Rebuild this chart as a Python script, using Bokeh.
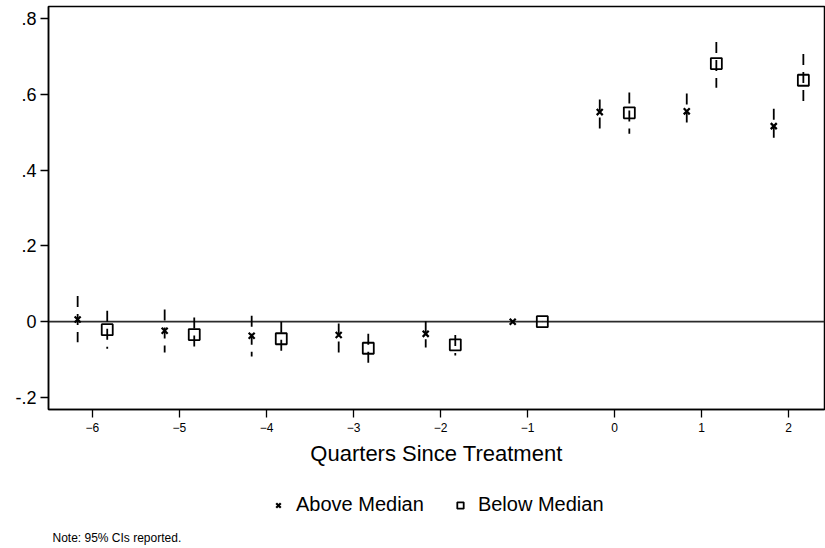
from bokeh.plotting import figure
from bokeh.layouts import column
from bokeh.models import (ColumnDataSource, Span, Legend, LegendItem, Label,
                          FixedTicker, Range1d)
from bokeh.embed import file_html
from bokeh.resources import INLINE

# ---- data ----
quarters = [-6, -5, -4, -3, -2, -1, 0, 1, 2]
above_est = [0.006, -0.024, -0.037, -0.035, -0.032, 0.0, 0.553, 0.555, 0.516]
above_lo = [-0.054, -0.081, -0.092, -0.082, -0.068, 0.0, 0.510, 0.507, 0.469]
above_hi = [0.068, 0.032, 0.016, -0.005, 0.001, 0.0, 0.586, 0.602, 0.562]
below_est = [-0.021, -0.034, -0.045, -0.070, -0.061, 0.0, 0.551, 0.681, 0.637]
below_lo = [-0.071, -0.081, -0.084, -0.108, -0.089, 0.0, 0.496, 0.617, 0.566]
below_hi = [0.029, 0.011, 0.000, -0.032, -0.035, 0.0, 0.605, 0.738, 0.706]
x_ticks = [-6, -5, -4, -3, -2, -1, 0, 1, 2]
y_ticks = [-0.2, 0, 0.2, 0.4, 0.6, 0.8]
y_tick_labels = ["-.2", "0", ".2", ".4", ".6", ".8"]
series_labels = ["Above Median", "Below Median"]
x_title = "Quarters Since Treatment"
note_text = "Note: 95% CIs reported."

OFFSET = 0.17
FONT = "Liberation Sans"

above_src = ColumnDataSource(dict(x=[q - OFFSET for q in quarters], est=above_est,
                                  lo=above_lo, hi=above_hi))
below_src = ColumnDataSource(dict(x=[q + OFFSET for q in quarters], est=below_est,
                                  lo=below_lo, hi=below_hi))

MAIN_H = 475
p = figure(width=825, height=MAIN_H, output_backend="svg", toolbar_location=None,
           x_range=Range1d(-6.505, 2.413), y_range=Range1d(-0.2316, 0.8316),
           min_border_left=48, min_border_right=1, min_border_top=6,
           min_border_bottom=MAIN_H - 409)
p.background_fill_color = "white"
p.border_fill_color = "white"
p.xgrid.visible = False
p.ygrid.visible = False
p.outline_line_color = "black"
p.outline_line_width = 1.5

zero = Span(location=0, dimension="width", line_color="#2b2b2b", line_width=1.8,
            level="underlay")
p.add_layout(zero)

# CIs (dashed)
p.segment(x0="x", y0="hi", x1="x", y1="lo", source=above_src, line_color="black",
          line_width=1.8, line_dash="11 7")
p.segment(x0="x", y0="hi", x1="x", y1="lo", source=below_src, line_color="black",
          line_width=1.8, line_dash="11 7")

MARK_A = dict(marker="x", size=8.5, line_color="black", line_width=2.2)
MARK_B = dict(marker="square", size=11, line_color="black", line_width=1.8,
              fill_alpha=0)
p.scatter(x="x", y="est", source=above_src, **MARK_A)
p.scatter(x="x", y="est", source=below_src, **MARK_B)

# axes
for ax in (p.xaxis[0], p.yaxis[0]):
    ax.axis_line_width = 1.5
    ax.axis_line_color = "black"
    ax.major_tick_line_width = 1.3
    ax.major_tick_in = 0
    ax.major_tick_out = 8
    ax.minor_tick_line_color = None

p.yaxis.ticker = FixedTicker(ticks=y_ticks)
p.yaxis.major_label_overrides = dict(zip(y_ticks, y_tick_labels))
p.yaxis.major_label_text_font = FONT
p.yaxis.major_label_text_font_size = "18px"
p.yaxis.major_label_standoff = 4
p.yaxis.major_label_text_color = "black"

p.xaxis.ticker = FixedTicker(ticks=x_ticks)
p.xaxis.major_label_text_font = FONT
p.xaxis.major_label_text_font_size = "12px"
p.xaxis.major_label_standoff = 5
p.xaxis.major_label_text_color = "black"
p.xaxis.axis_label = x_title
p.xaxis.axis_label_text_font = FONT
p.xaxis.axis_label_text_font_size = "22px"
p.xaxis.axis_label_text_font_style = "normal"
p.xaxis.axis_label_text_color = "black"
p.xaxis.axis_label_standoff = 6

# ---- bottom strip: legend + note ----
LEG_H = 548 - MAIN_H
q = figure(width=825, height=LEG_H, output_backend="svg", toolbar_location=None,
           x_range=Range1d(1000, 1001), y_range=Range1d(1000, 1001),
           min_border_left=0, min_border_right=0, min_border_top=0,
           min_border_bottom=0)
q.axis.visible = False
q.grid.visible = False
q.outline_line_color = None
q.background_fill_color = "white"
q.border_fill_color = "white"

# legend-key renderers (same series; out of this strip's view, only keys show)
la = q.scatter(x="x", y="est", source=above_src, **MARK_A)
lb = q.scatter(x="x", y="est", source=below_src, **MARK_B)

legend = Legend(items=[LegendItem(label=series_labels[0], renderers=[la]),
                       LegendItem(label=series_labels[1], renderers=[lb])],
                orientation="horizontal", location=(222, 548 - 516),
                label_text_font=FONT, label_text_font_size="20px",
                label_text_color="black", glyph_width=16, glyph_height=20,
                label_standoff=10, spacing=28, border_line_color=None,
                background_fill_alpha=0, margin=0, padding=4)
q.add_layout(legend)

note = Label(x=4, y=548 - 537, x_units="screen", y_units="screen", text=note_text,
             text_font=FONT, text_font_size="12px", text_color="black",
             text_baseline="middle", text_align="left")
q.add_layout(note)

layout = column(p, q, spacing=0)
open("out.html", "w").write(file_html(layout, INLINE))
